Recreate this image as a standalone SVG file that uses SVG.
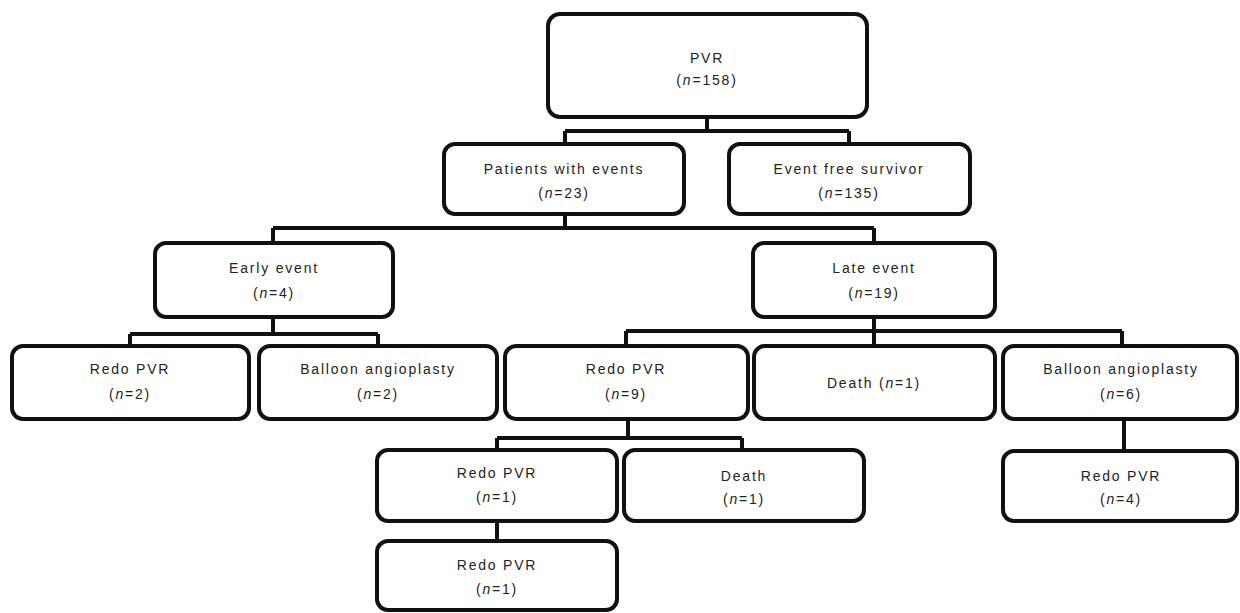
<svg xmlns="http://www.w3.org/2000/svg" width="1240" height="613" viewBox="0 0 1240 613">
<style>
.box{fill:#fff;stroke:#111;stroke-width:4}
.c{fill:none;stroke:#111;stroke-width:4;stroke-linejoin:miter}
text{font-family:"Liberation Sans",Arial,sans-serif;font-size:14px;letter-spacing:1.8px;fill:#222;text-anchor:middle}
.i{font-style:italic}
</style>
<rect width="1240" height="613" fill="#fff"/>
<g id="connectors">
<path class="c" d="M707 117V131M565 131H849M565 131V145M849 131V145"/>
<path class="c" d="M565 214V228M273 228H874M273 228V244M874 228V244"/>
<path class="c" d="M273 317V334M130 334H378M130 334V347M378 334V347"/>
<path class="c" d="M874 317V331M626 331H1122M626 331V347M874 331V347M1122 331V347"/>
<path class="c" d="M628 420V438M497 438H742M497 438V450M742 438V450"/>
<path class="c" d="M1124 420V451"/>
<path class="c" d="M497 520V541"/>
</g>
<g id="n-pvr"><rect class="box" x="548" y="14" width="319" height="103" rx="12"/><text x="707" y="63">PVR</text><text x="707" y="85">(<tspan class="i">n</tspan>=158)</text></g>
<g id="n-patients"><rect class="box" x="444" y="144" width="240" height="70" rx="11"/><text x="564" y="174">Patients with events</text><text x="564" y="198">(<tspan class="i">n</tspan>=23)</text></g>
<g id="n-eventfree"><rect class="box" x="729" y="144" width="241" height="70" rx="11"/><text x="849" y="174">Event free survivor</text><text x="849" y="198">(<tspan class="i">n</tspan>=135)</text></g>
<g id="n-early"><rect class="box" x="155" y="243" width="238" height="74" rx="11"/><text x="274" y="273">Early event</text><text x="274" y="298">(<tspan class="i">n</tspan>=4)</text></g>
<g id="n-late"><rect class="box" x="753" y="243" width="242" height="74" rx="11"/><text x="874" y="273">Late event</text><text x="874" y="298">(<tspan class="i">n</tspan>=19)</text></g>
<g id="n-redo2"><rect class="box" x="12" y="346" width="237" height="73" rx="11"/><text x="130" y="374">Redo PVR</text><text x="130" y="399">(<tspan class="i">n</tspan>=2)</text></g>
<g id="n-balloon2"><rect class="box" x="259" y="346" width="238" height="73" rx="11"/><text x="378" y="374">Balloon angioplasty</text><text x="378" y="399">(<tspan class="i">n</tspan>=2)</text></g>
<g id="n-redo9"><rect class="box" x="505" y="346" width="243" height="73" rx="11"/><text x="626" y="374">Redo PVR</text><text x="626" y="399">(<tspan class="i">n</tspan>=9)</text></g>
<g id="n-death1"><rect class="box" x="754" y="346" width="241" height="73" rx="11"/><text x="874" y="388">Death (<tspan class="i">n</tspan>=1)</text></g>
<g id="n-balloon6"><rect class="box" x="1003" y="346" width="234" height="73" rx="11"/><text x="1121" y="374">Balloon angioplasty</text><text x="1121" y="399">(<tspan class="i">n</tspan>=6)</text></g>
<g id="n-redo1a"><rect class="box" x="377" y="450" width="240" height="71" rx="11"/><text x="497" y="478">Redo PVR</text><text x="497" y="502">(<tspan class="i">n</tspan>=1)</text></g>
<g id="n-death1b"><rect class="box" x="624" y="450" width="240" height="71" rx="11"/><text x="744" y="481">Death</text><text x="744" y="504">(<tspan class="i">n</tspan>=1)</text></g>
<g id="n-redo4"><rect class="box" x="1003" y="451" width="234" height="70" rx="11"/><text x="1121" y="481">Redo PVR</text><text x="1121" y="504">(<tspan class="i">n</tspan>=4)</text></g>
<g id="n-redo1b"><rect class="box" x="377" y="541" width="240" height="69" rx="11"/><text x="497" y="570">Redo PVR</text><text x="497" y="594">(<tspan class="i">n</tspan>=1)</text></g>
</svg>
